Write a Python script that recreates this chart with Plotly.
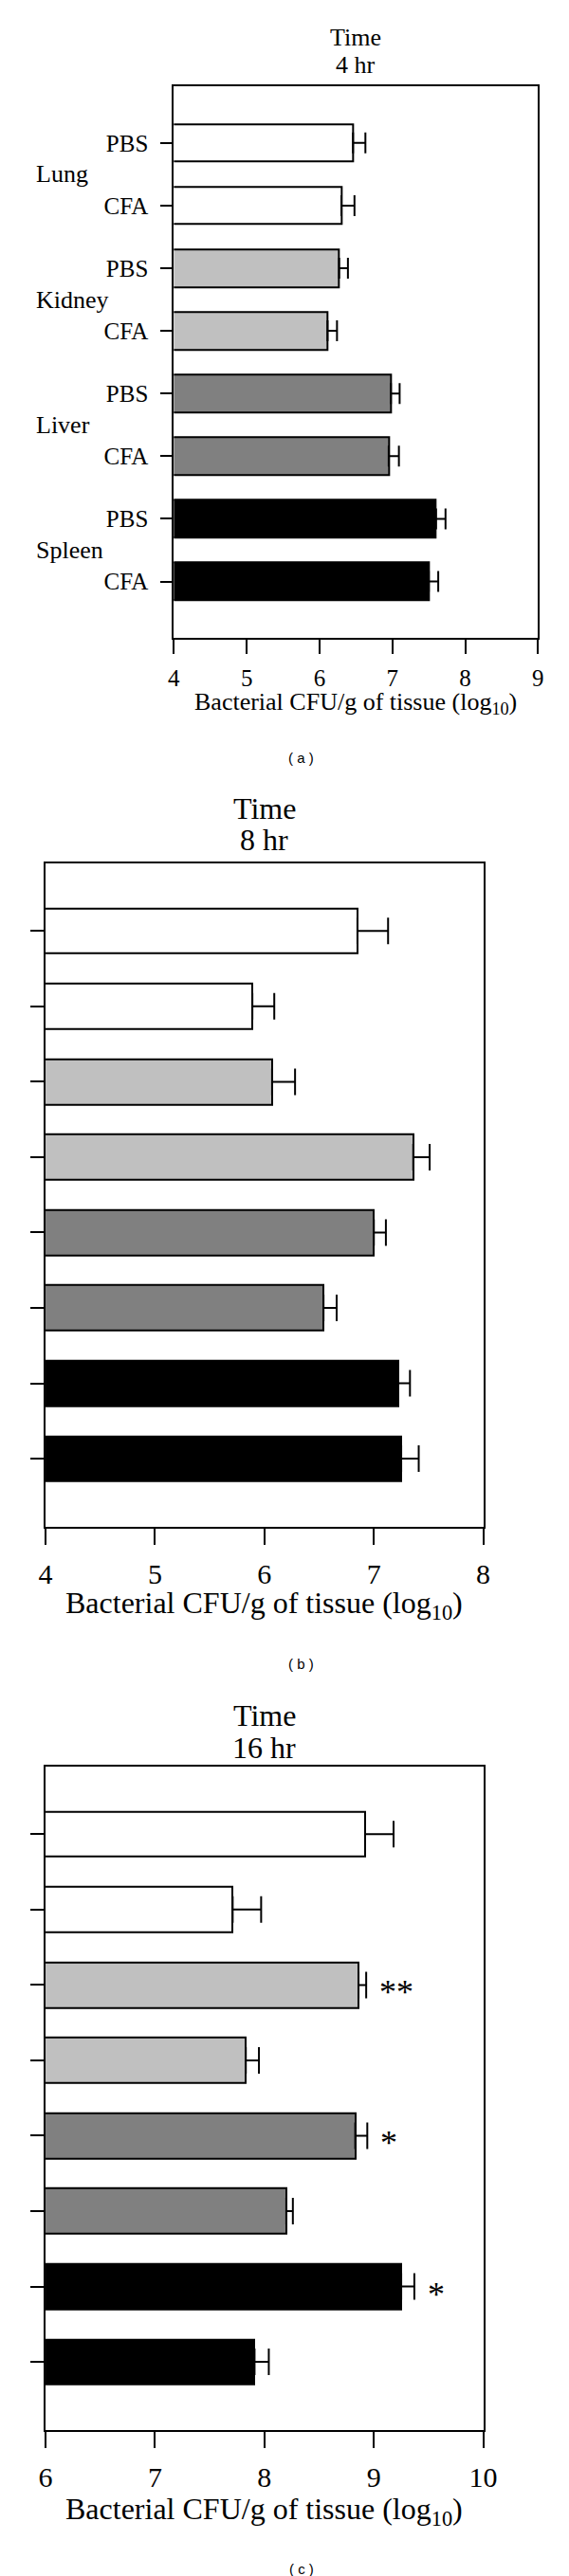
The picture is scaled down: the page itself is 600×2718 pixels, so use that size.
import plotly.graph_objects as go

W, H = 600, 2718

organs = ["Lung", "Kidney", "Liver", "Spleen"]
bar_labels = ["PBS", "CFA", "PBS", "CFA", "PBS", "CFA", "PBS", "CFA"]
colors = ["#ffffff", "#ffffff", "#c0c0c0", "#c0c0c0",
          "#808080", "#808080", "#000000", "#000000"]

vals_4hr = [6.46, 6.30, 6.27, 6.11, 6.98, 6.95, 7.60, 7.50]
err_4hr = [0.17, 0.18, 0.12, 0.13, 0.12, 0.14, 0.13, 0.13]
vals_8hr = [6.85, 5.89, 6.07, 7.36, 7.00, 6.54, 7.22, 7.25]
err_8hr = [0.28, 0.20, 0.21, 0.15, 0.11, 0.12, 0.11, 0.16]
vals_16hr = [8.92, 7.71, 8.86, 7.83, 8.83, 8.20, 9.25, 7.91]
err_16hr = [0.26, 0.26, 0.07, 0.12, 0.11, 0.06, 0.12, 0.13]
stars_16hr = ["", "", "**", "", "*", "", "*", ""]

titles = ["4 hr", "8 hr", "16 hr"]
captions = ["( a )", "( b )", "( c )"]
x_ranges = [[4, 9], [4, 8], [6, 10]]
axis_title = "Bacterial CFU/g of tissue (log<sub>10</sub>)"

SERIF = "Liberation Serif, Times New Roman, serif"

# panel geometry in page pixels
panels = [
    dict(x0=174, x1=573.3, y0=83.3, y1=665, tick_fs=25, fs=26, ticklen_x=15, ticklen_y=12,
         cap=11, t1=32, t2=60, tick_off=4, at_y=734, cap_y=792),
    dict(x0=33.3, x1=513.3, y0=902.7, y1=1602.7, tick_fs=30, fs=32, ticklen_x=17, ticklen_y=14,
         cap=14, t1=845, t2=878, tick_off=5, at_y=1686, cap_y=1747),
    dict(x0=33.3, x1=513.3, y0=1855.7, y1=2555.7, tick_fs=30, fs=32, ticklen_x=17, ticklen_y=14,
         cap=14, t1=1802, t2=1836, tick_off=5, at_y=2641, cap_y=2702),
]

data = [(vals_4hr, err_4hr), (vals_8hr, err_8hr), (vals_16hr, err_16hr)]
pos = list(range(len(bar_labels)))

def px(x):
    return x / W

def py(y):
    return 1 - y / H

fig = go.Figure()
annotations = []
layout = {}

for i, (p, (vals, errs)) in enumerate(zip(panels, data)):
    n = "" if i == 0 else str(i + 1)
    xa, ya = "x" + n, "y" + n
    fig.add_trace(go.Bar(
        x=vals, y=pos, orientation="h", width=0.6,
        marker=dict(color=colors, line=dict(color="black", width=2)),
        error_x=dict(type="data", array=errs, arrayminus=[0] * len(errs), symmetric=False,
                     color="black", thickness=2, width=p["cap"]),
        xaxis=xa, yaxis=ya, showlegend=False, hoverinfo="skip",
    ))
    xr = x_ranges[i]
    layout["xaxis" + n] = dict(
        domain=[px(p["x0"]), px(p["x1"])], anchor=ya, range=xr,
        tickvals=list(range(xr[0], xr[1] + 1)), ticks="outside", ticklen=p["ticklen_x"],
        tickwidth=2, tickcolor="black", ticklabelstandoff=p["tick_off"],
        tickfont=dict(family=SERIF, size=p["tick_fs"], color="black"),
        showline=True, linecolor="black", linewidth=2, mirror=True,
        showgrid=False, zeroline=False, fixedrange=True,
    )
    ydict = dict(
        domain=[py(p["y1"]), py(p["y0"])], anchor=xa, range=[7.9, -0.9],
        tickvals=pos, ticks="outside", ticklen=p["ticklen_y"], tickwidth=2, tickcolor="black",
        showline=True, linecolor="black", linewidth=2, mirror=True,
        showgrid=False, zeroline=False, fixedrange=True,
    )
    if i == 0:
        ydict.update(ticktext=bar_labels, showticklabels=True, ticklabelstandoff=8,
                     tickfont=dict(family=SERIF, size=p["tick_fs"], color="black"))
    else:
        ydict.update(showticklabels=False)
    layout["yaxis" + n] = ydict

    cx = (p["x0"] + p["x1"]) / 2
    annotations.append(dict(text="Time", x=px(cx), y=py(p["t1"]), xref="paper", yref="paper",
                            xanchor="center", yanchor="middle", showarrow=False,
                            font=dict(family=SERIF, size=p["fs"], color="black")))
    annotations.append(dict(text=titles[i], x=px(cx), y=py(p["t2"]), xref="paper", yref="paper",
                            xanchor="center", yanchor="middle", showarrow=False,
                            font=dict(family=SERIF, size=p["fs"], color="black")))
    annotations.append(dict(text=axis_title, x=px(cx), y=py(p["at_y"]), xref="paper", yref="paper",
                            xanchor="center", yanchor="middle", showarrow=False,
                            font=dict(family=SERIF, size=p["fs"], color="black")))
    annotations.append(dict(text=captions[i], x=px(314), y=py(p["cap_y"]), xref="paper", yref="paper",
                            xanchor="center", yanchor="middle", showarrow=False,
                            font=dict(family="Liberation Sans, Arial, sans-serif", size=15, color="black")))

# organ group labels on panel (a)
for k, organ in enumerate(organs):
    annotations.append(dict(text=organ, x=px(21), y=2 * k + 0.5, xref="paper", yref="y",
                            xanchor="left", yanchor="middle", showarrow=False,
                            font=dict(family=SERIF, size=26, color="black")))

# significance marks on panel (c)
for k, s in enumerate(stars_16hr):
    if s:
        annotations.append(dict(text=s, x=vals_16hr[k] + err_16hr[k], y=k, xref="x3", yref="y3",
                                xanchor="left", yanchor="middle", xshift=12, yshift=-8,
                                showarrow=False,
                                font=dict(family=SERIF, size=36, color="black")))

fig.update_layout(
    width=W, height=H, autosize=False,
    margin=dict(l=0, r=0, t=0, b=0, pad=0),
    paper_bgcolor="white", plot_bgcolor="white",
    annotations=annotations, bargap=0,
    **layout,
)

fig.write_html("out.html")
